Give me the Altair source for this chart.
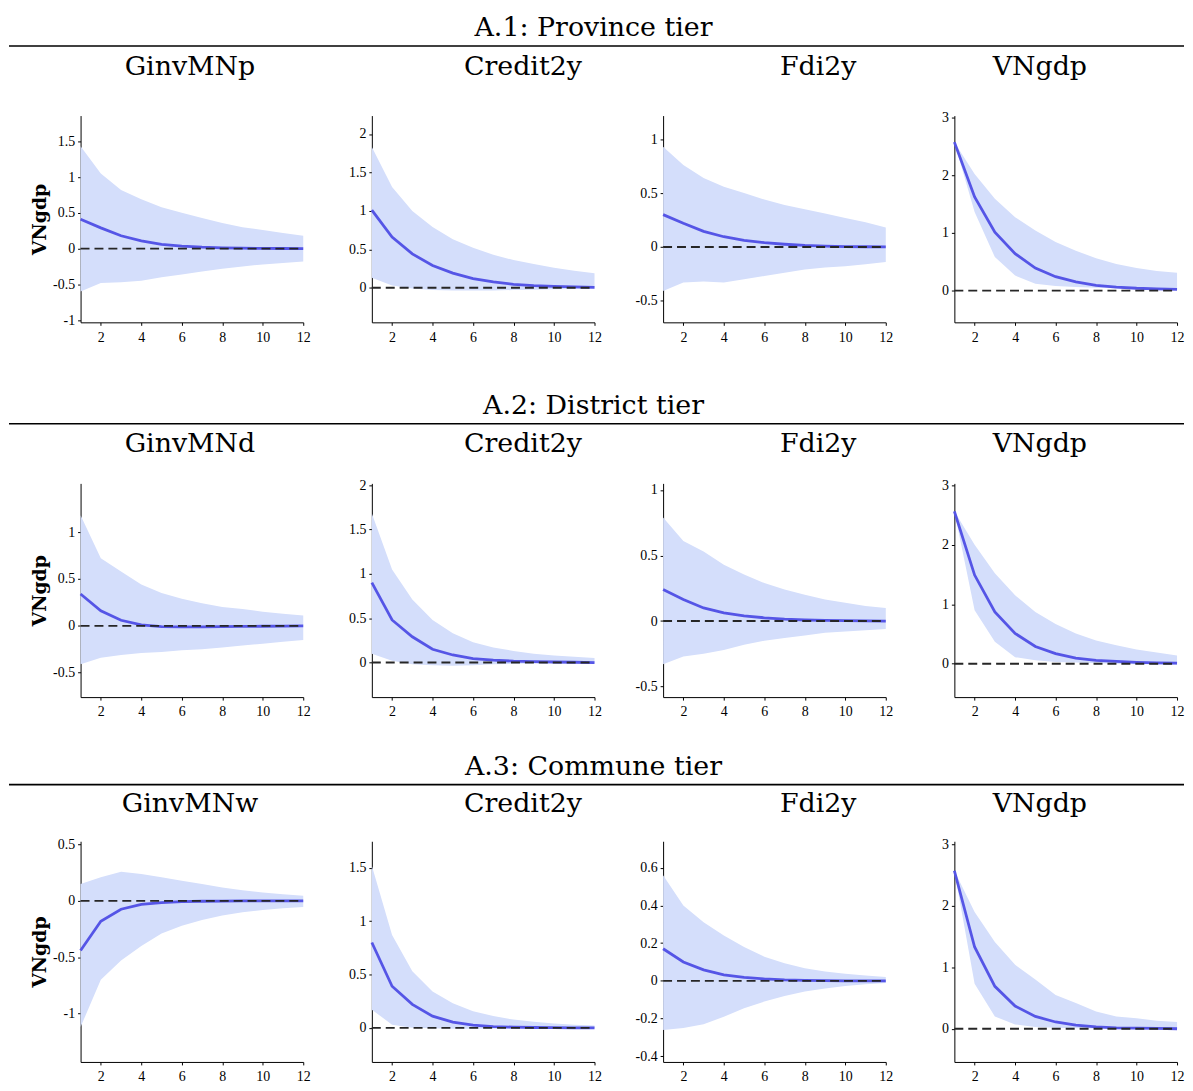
import altair as alt
import pandas as pd

HORIZON = list(range(1, 13))

# ---------------- A.1 Province tier ----------------
A1_GINV_IRF = [0.41, 0.29, 0.18, 0.11, 0.06, 0.035, 0.02, 0.012, 0.007, 0.004, 0.002, 0.0]
A1_GINV_HI = [1.43, 1.05, 0.82, 0.69, 0.58, 0.5, 0.43, 0.36, 0.3, 0.26, 0.22, 0.18]
A1_GINV_LO = [-0.6, -0.48, -0.47, -0.45, -0.4, -0.36, -0.32, -0.28, -0.25, -0.22, -0.2, -0.18]

A1_CRED_IRF = [1.01, 0.66, 0.44, 0.29, 0.19, 0.12, 0.075, 0.045, 0.028, 0.017, 0.01, 0.006]
A1_CRED_HI = [1.83, 1.31, 1.0, 0.79, 0.63, 0.52, 0.43, 0.36, 0.31, 0.26, 0.22, 0.19]
A1_CRED_LO = [0.13, 0.03, -0.01, -0.03, -0.035, -0.035, -0.035, -0.03, -0.025, -0.02, -0.015, -0.01]

A1_FDI_IRF = [0.3, 0.22, 0.145, 0.095, 0.062, 0.04, 0.025, 0.014, 0.008, 0.004, 0.002, 0.0]
A1_FDI_HI = [0.93, 0.76, 0.64, 0.56, 0.5, 0.44, 0.39, 0.35, 0.31, 0.27, 0.23, 0.18]
A1_FDI_LO = [-0.41, -0.33, -0.32, -0.33, -0.3, -0.27, -0.24, -0.21, -0.19, -0.18, -0.16, -0.14]

A1_GDP_IRF = [2.57, 1.62, 1.01, 0.64, 0.39, 0.24, 0.15, 0.09, 0.06, 0.04, 0.03, 0.02]
A1_GDP_HI = [2.57, 2.02, 1.59, 1.27, 1.04, 0.84, 0.69, 0.56, 0.46, 0.39, 0.34, 0.31]
A1_GDP_LO = [2.57, 1.36, 0.58, 0.26, 0.12, 0.08, 0.06, 0.05, 0.04, 0.03, 0.02, 0.015]

# ---------------- A.2 District tier ----------------
A2_GINV_IRF = [0.34, 0.16, 0.06, 0.01, -0.007, -0.01, -0.01, -0.008, -0.006, -0.004, -0.002, 0.0]
A2_GINV_HI = [1.18, 0.72, 0.58, 0.44, 0.35, 0.29, 0.24, 0.2, 0.18, 0.15, 0.13, 0.11]
A2_GINV_LO = [-0.41, -0.34, -0.31, -0.29, -0.28, -0.26, -0.25, -0.23, -0.21, -0.19, -0.17, -0.15]

A2_CRED_IRF = [0.9, 0.48, 0.29, 0.15, 0.085, 0.045, 0.027, 0.015, 0.01, 0.006, 0.003, 0.0]
A2_CRED_HI = [1.68, 1.05, 0.71, 0.48, 0.33, 0.23, 0.17, 0.13, 0.1, 0.08, 0.065, 0.05]
A2_CRED_LO = [0.1, 0.02, -0.02, -0.03, -0.035, -0.03, -0.02, -0.015, -0.01, -0.008, -0.005, -0.003]

A2_FDI_IRF = [0.24, 0.165, 0.1, 0.063, 0.04, 0.025, 0.014, 0.008, 0.005, 0.003, 0.002, 0.0]
A2_FDI_HI = [0.79, 0.61, 0.53, 0.43, 0.355, 0.29, 0.24, 0.2, 0.165, 0.14, 0.115, 0.1]
A2_FDI_LO = [-0.33, -0.27, -0.25, -0.22, -0.18, -0.15, -0.13, -0.11, -0.09, -0.08, -0.07, -0.06]

A2_GDP_IRF = [2.56, 1.49, 0.87, 0.51, 0.29, 0.17, 0.095, 0.056, 0.04, 0.025, 0.015, 0.01]
A2_GDP_HI = [2.56, 2.0, 1.52, 1.15, 0.87, 0.67, 0.51, 0.39, 0.31, 0.24, 0.19, 0.14]
A2_GDP_LO = [2.56, 0.9, 0.37, 0.11, 0.06, 0.03, 0.02, 0.01, 0.0, -0.01, -0.01, -0.02]

# ---------------- A.3 Commune tier ----------------
A3_GINV_IRF = [-0.44, -0.18, -0.074, -0.03, -0.015, -0.006, -0.003, -0.001, 0.0, 0.0, 0.0, 0.0]
A3_GINV_HI = [0.15, 0.21, 0.26, 0.24, 0.21, 0.18, 0.15, 0.12, 0.095, 0.075, 0.06, 0.045]
A3_GINV_LO = [-1.12, -0.7, -0.53, -0.4, -0.29, -0.22, -0.17, -0.13, -0.1, -0.08, -0.065, -0.053]

A3_CRED_IRF = [0.8, 0.39, 0.22, 0.11, 0.053, 0.025, 0.012, 0.006, 0.003, 0.001, 0.0, 0.0]
A3_CRED_HI = [1.52, 0.87, 0.53, 0.34, 0.23, 0.155, 0.11, 0.077, 0.056, 0.04, 0.03, 0.022]
A3_CRED_LO = [0.17, 0.03, 0.0, -0.005, -0.008, -0.008, -0.006, -0.005, -0.004, -0.003, -0.002, -0.001]

A3_FDI_IRF = [0.17, 0.1, 0.058, 0.032, 0.018, 0.01, 0.005, 0.003, 0.001, 0.0, 0.0, 0.0]
A3_FDI_HI = [0.56, 0.4, 0.31, 0.24, 0.18, 0.128, 0.093, 0.067, 0.05, 0.037, 0.028, 0.02]
A3_FDI_LO = [-0.26, -0.25, -0.23, -0.19, -0.145, -0.11, -0.08, -0.056, -0.04, -0.027, -0.018, -0.012]

A3_GDP_IRF = [2.57, 1.33, 0.69, 0.37, 0.2, 0.11, 0.06, 0.03, 0.015, 0.01, 0.005, 0.0]
A3_GDP_HI = [2.57, 1.9, 1.41, 1.04, 0.8, 0.55, 0.42, 0.28, 0.2, 0.17, 0.13, 0.11]
A3_GDP_LO = [2.57, 0.73, 0.2, 0.07, 0.03, 0.015, 0.01, 0.005, 0.0, 0.0, -0.005, -0.01]

SECTIONS = ["A.1: Province tier", "A.2: District tier", "A.3: Commune tier"]
COLUMN_TITLES = [
    ["GinvMNp", "Credit2y", "Fdi2y", "VNgdp"],
    ["GinvMNd", "Credit2y", "Fdi2y", "VNgdp"],
    ["GinvMNw", "Credit2y", "Fdi2y", "VNgdp"],
]
PANELS = [
    [(A1_GINV_IRF, A1_GINV_LO, A1_GINV_HI), (A1_CRED_IRF, A1_CRED_LO, A1_CRED_HI),
     (A1_FDI_IRF, A1_FDI_LO, A1_FDI_HI), (A1_GDP_IRF, A1_GDP_LO, A1_GDP_HI)],
    [(A2_GINV_IRF, A2_GINV_LO, A2_GINV_HI), (A2_CRED_IRF, A2_CRED_LO, A2_CRED_HI),
     (A2_FDI_IRF, A2_FDI_LO, A2_FDI_HI), (A2_GDP_IRF, A2_GDP_LO, A2_GDP_HI)],
    [(A3_GINV_IRF, A3_GINV_LO, A3_GINV_HI), (A3_CRED_IRF, A3_CRED_LO, A3_CRED_HI),
     (A3_FDI_IRF, A3_FDI_LO, A3_FDI_HI), (A3_GDP_IRF, A3_GDP_LO, A3_GDP_HI)],
]
Y_DOMAINS = [
    [[-1.03, 1.86], [-0.45, 2.24], [-0.7, 1.22], [-0.55, 3.03]],
    [[-0.76, 1.52], [-0.39, 2.02], [-0.58, 1.05], [-0.56, 3.03]],
    [[-1.43, 0.53], [-0.32, 1.75], [-0.43, 0.74], [-0.54, 3.05]],
]
Y_TICKS = [
    [[-1, -0.5, 0, 0.5, 1, 1.5], [0, 0.5, 1, 1.5, 2], [-0.5, 0, 0.5, 1], [0, 1, 2, 3]],
    [[-0.5, 0, 0.5, 1], [0, 0.5, 1, 1.5, 2], [-0.5, 0, 0.5, 1], [0, 1, 2, 3]],
    [[-1, -0.5, 0, 0.5], [0, 0.5, 1, 1.5], [-0.4, -0.2, 0, 0.2, 0.4, 0.6], [0, 1, 2, 3]],
]
X_TICKS = [2, 4, 6, 8, 10, 12]
Y_TITLE = "VNgdp"

# ---------------- layout / style ----------------
PANEL_W = 224
ROW_H = [208, 215, 222]
HEAD_H = [104, 162, 145]
SPACING = 69
PITCH = PANEL_W + SPACING
RULE_X0 = -72
RULE_X1 = 1110
HEAD_X = 516
COL_X = [110, 445, 742, 965]
HEAD_Y = [24, 92, 78]
RULE_Y = [34, 102, 88]
COL_Y = [63, 130, 116]

TICK_FONT = "Liberation Serif"
TEXT_FONT = "DejaVu Serif"
TEXT_SIZE = 27
BAND = "#d4defb"
LINE = "#5555e6"


def panel(series, domain, ticks, h, first):
    irf, lo, hi = series
    df = pd.DataFrame({"h": HORIZON, "irf": irf, "lo": lo, "hi": hi})
    xs = alt.Scale(domain=[1, 12], nice=False, zero=False)
    ys = alt.Scale(domain=domain, nice=False, zero=False)
    xaxis = alt.Axis(values=X_TICKS, title=None, labelFlush=False, grid=False)
    if first:
        yaxis = alt.Axis(values=ticks, labelExpr="toString(datum.value)", title=Y_TITLE,
                         titleFont=TEXT_FONT, titleFontWeight="bold", titleFontSize=19,
                         titleX=-35, titleY=h / 2, titleAngle=270, titleAlign="center",
                         titleBaseline="alphabetic", grid=False)
    else:
        yaxis = alt.Axis(values=ticks, labelExpr="toString(datum.value)", title=None, grid=False)
    base = alt.Chart(df)
    band = base.mark_area(color=BAND, opacity=1).encode(
        x=alt.X("h:Q", scale=xs, axis=xaxis),
        y=alt.Y("lo:Q", scale=ys, axis=yaxis),
        y2="hi:Q",
    )
    line = base.mark_line(color=LINE, strokeWidth=2.8).encode(
        x=alt.X("h:Q", scale=xs, axis=xaxis),
        y=alt.Y("irf:Q", scale=ys, axis=yaxis),
    )
    zero = alt.Chart(pd.DataFrame({"z": [0]})).mark_rule(
        color="#262626", strokeDash=[9, 5], strokeWidth=1.9
    ).encode(x=alt.datum(1), x2=alt.datum(12), y=alt.Y("z:Q", scale=ys, axis=yaxis))
    return alt.layer(band, line, zero).properties(width=PANEL_W, height=h)


def header_cell(i, j):
    base = alt.Chart(pd.DataFrame({"d": [0]}))
    layers = []
    if j == 0:
        if i == 0:
            layers.append(base.mark_rule(color="white", strokeWidth=1).encode(
                x=alt.value(RULE_X0), x2=alt.value(RULE_X1), y=alt.value(0)))
        layers.append(base.mark_rule(color="black", strokeWidth=1.6).encode(
            x=alt.value(RULE_X0), x2=alt.value(RULE_X1), y=alt.value(RULE_Y[i])))
        layers.append(base.mark_text(text=SECTIONS[i], font=TEXT_FONT, fontSize=TEXT_SIZE,
                                     baseline="alphabetic", align="center", color="black").encode(
            x=alt.value(HEAD_X), y=alt.value(HEAD_Y[i])))
    layers.append(base.mark_text(text=COLUMN_TITLES[i][j], font=TEXT_FONT, fontSize=TEXT_SIZE,
                                 baseline="alphabetic", align="center", color="black").encode(
        x=alt.value(COL_X[j] - j * PITCH), y=alt.value(COL_Y[i])))
    return alt.layer(*layers).properties(width=PANEL_W, height=HEAD_H[i])


cells = []
for i in range(3):
    for j in range(4):
        cells.append(header_cell(i, j))
    for j in range(4):
        cells.append(panel(PANELS[i][j], Y_DOMAINS[i][j], Y_TICKS[i][j], ROW_H[i], j == 0))

chart = alt.concat(*cells, columns=4, spacing={"row": 0, "column": SPACING},
                   bounds="flush", align="each").properties(
    padding=0, background="white"
).configure_view(stroke=None).configure_axis(
    domainColor="black", tickColor="black", labelColor="black",
    labelFont=TICK_FONT, labelFontSize=14, tickSize=3, domainWidth=1, tickWidth=1,
).configure_axisX(labelPadding=5).configure_axisY(labelPadding=3)

chart.save("out.html", embed_options={"renderer": "svg", "actions": False})
